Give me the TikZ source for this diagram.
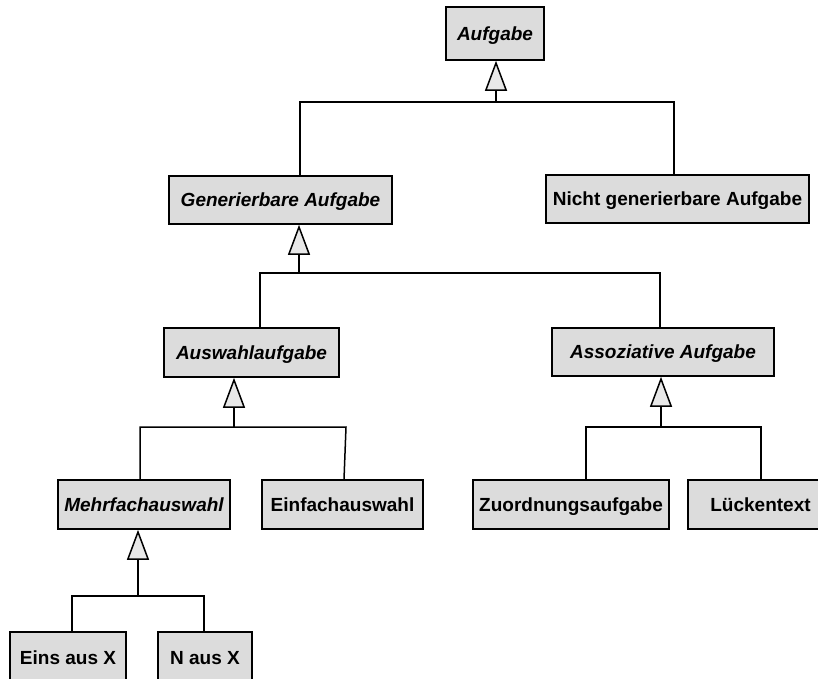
\documentclass[tikz,border=0pt]{standalone}
\usepackage{fontspec}
\setmainfont{Liberation Sans}
\usetikzlibrary{arrows.meta,calc}
\definecolor{boxgray}{RGB}{220,220,220}
\definecolor{trigray}{RGB}{232,232,232}
\tikzset{
  cls/.style={draw=black, line width=1.6pt, fill=boxgray, inner sep=0pt,
    text height=13.6pt, text depth=0.5pt},
  abstractcls/.style={cls, font=\fontsize{19}{22}\selectfont\bfseries\itshape},
  concretecls/.style={cls, font=\fontsize{19}{22}\selectfont\bfseries},
  link/.style={line width=1.5pt, draw=black},
  inherit/.style={link, -{Triangle[length=30pt,width=22pt,fill=trigray]}},
}
\begin{document}
\begin{tikzpicture}[x=1pt,y=-1pt]
\useasboundingbox (0,0) rectangle (818,678);
\clip (0,0) rectangle (818,678);

% class boxes
\node[abstractcls, minimum width=98pt,  minimum height=53pt] (auf)   at (495,33.5)  {Aufgabe};
\node[abstractcls, minimum width=223pt, minimum height=48pt] (gen)   at (280.5,200) {Generierbare Aufgabe};
\node[concretecls, minimum width=263pt, minimum height=48pt] (nicht) at (677.5,199) {Nicht generierbare Aufgabe};
\node[abstractcls, minimum width=175pt, minimum height=49pt] (ausw)  at (251.5,352.5) {Auswahlaufgabe};
\node[abstractcls, minimum width=222pt, minimum height=48pt] (asso)  at (663,352)   {Assoziative Aufgabe};
\node[abstractcls, minimum width=172pt, minimum height=49pt] (mehr)  at (144,504.5) {Mehrfachauswahl};
\node[concretecls, minimum width=161pt, minimum height=49pt] (einf)  at (342.5,504.5) {Einfachauswahl};
\node[concretecls, minimum width=196pt, minimum height=49pt] (zuord) at (571,504.5) {Zuordnungsaufgabe};
\node[concretecls, minimum width=145pt, minimum height=49pt] (lueck) at (760.5,504.5) {Lückentext};
\node[concretecls, minimum width=116pt, minimum height=52pt] (eins)  at (68,658)   {Eins aus X};
\node[concretecls, minimum width=94pt,  minimum height=52pt] (naus)  at (205,658)  {N aus X};

% junctions of the generalisation trees
\coordinate (j1) at (496,102);  \coordinate (j1l) at (300,102); \coordinate (j1r) at (674,102);
\coordinate (j2) at (299,273);  \coordinate (j2l) at (260,273); \coordinate (j2r) at (660,273);
\coordinate (j3) at (234,427);  \coordinate (j3l) at (140,427); \coordinate (j3r) at (346,427);
\coordinate (j4) at (661,427);  \coordinate (j4l) at (586,427); \coordinate (j4r) at (761,427);
\coordinate (j5) at (138,596);  \coordinate (j5l) at (72,596);  \coordinate (j5r) at (204,596);

% Aufgabe
\draw[inherit] (j1) -- (j1 |- auf.south);
\draw[link] (gen.north -| j1l) -- (j1l) -- (j1r) -- (nicht.north -| j1r);

% Generierbare Aufgabe
\draw[inherit] (j2) -- (j2 |- gen.south);
\draw[link] (ausw.north -| j2l) -- (j2l) -- (j2r) -- (asso.north -| j2r);

% Auswahlaufgabe
\draw[inherit] (j3) -- (j3 |- ausw.south);
\draw[link] (mehr.north -| j3l) -- (j3l) -- (j3r) -- ($(einf.north -| j3r)+(-2,0)$);

% Assoziative Aufgabe
\draw[inherit] (j4) -- (j4 |- asso.south);
\draw[link] (zuord.north -| j4l) -- (j4l) -- (j4r) -- (lueck.north -| j4r);

% Mehrfachauswahl
\draw[inherit] (j5) -- (j5 |- mehr.south);
\draw[link] (eins.north -| j5l) -- (j5l) -- (j5r) -- (naus.north -| j5r);
\end{tikzpicture}
\end{document}
